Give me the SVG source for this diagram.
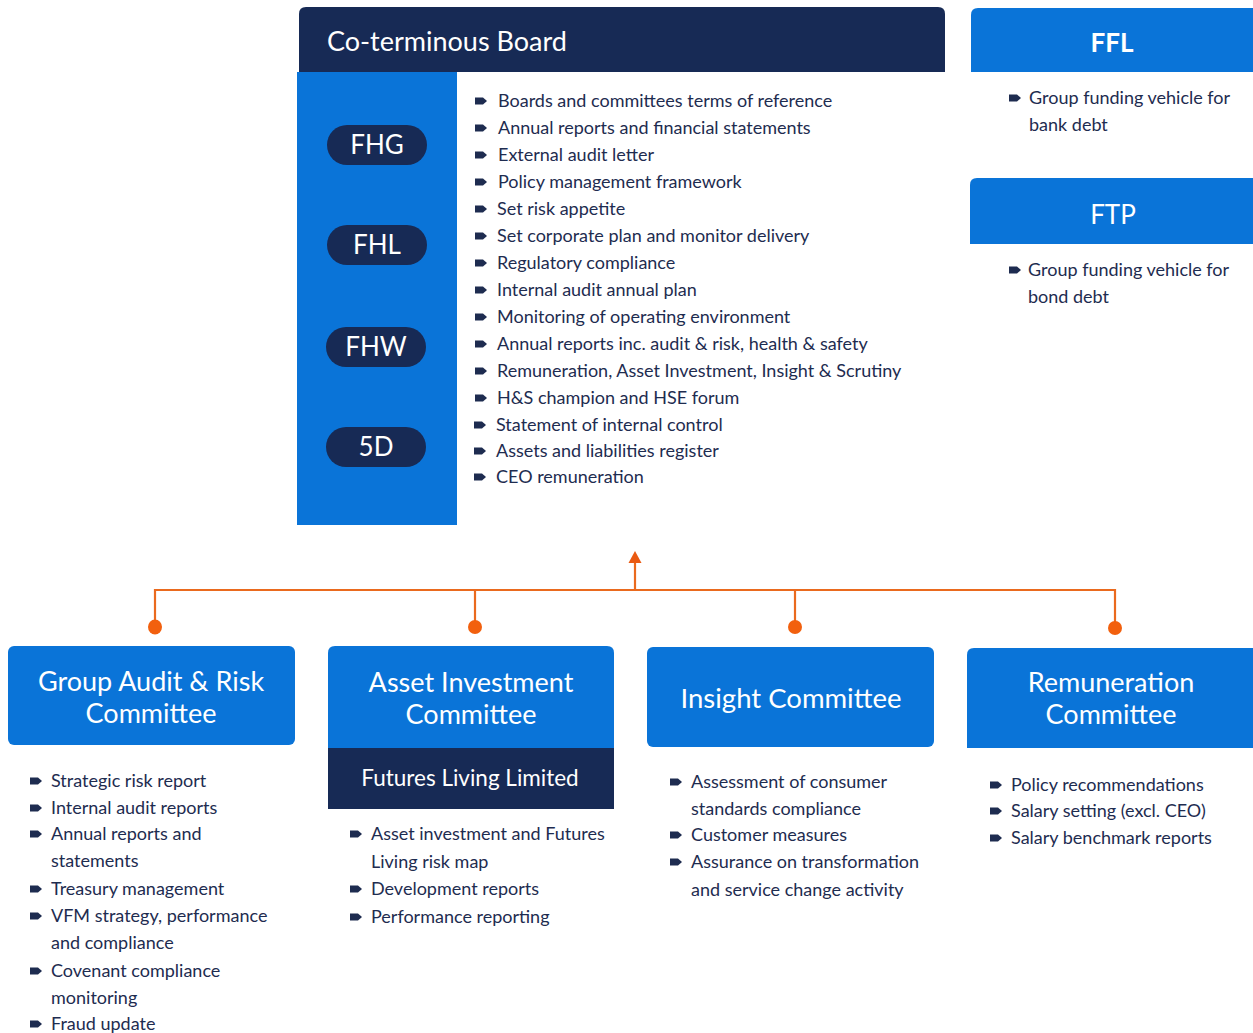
<svg xmlns="http://www.w3.org/2000/svg" width="1253" height="1033" viewBox="0 0 1253 1033">
<style>
.bg{fill:#ffffff}
.blue{fill:#0a74d8}
.navy{fill:#172a55}
.t{font-family:Lato,"Liberation Sans",sans-serif;font-size:18px;fill:#1e2c50}
.h{font-family:Lato,"Liberation Sans",sans-serif;fill:#ffffff}
.wire{stroke:#ea6a1e;stroke-width:2.2;fill:none}
.dot{fill:#f2600e}
</style>
<defs>
<path id="b" d="M-6,-3.5 H2 L6,0 L2,3.5 H-6 Z" fill="#1e2c50"/>
<marker id="arr" markerWidth="14" markerHeight="14" refX="2" refY="7" orient="auto" markerUnits="userSpaceOnUse">
<path d="M0,0.5 L12,7 L0,13.5 Z" fill="#ea5a12"/>
</marker>
</defs>
<rect class="bg" width="1253" height="1033"/>

<g id="board">
<rect class="blue" x="297" y="72" width="160" height="453"/>
<path class="navy" d="M299,72 V14 Q299,7 306,7 H938 Q945,7 945,14 V72 Z"/>
<text class="h" x="327" y="51" font-size="27">Co-terminous Board</text>
<g id="pill-fhg"><rect class="navy" x="327" y="125" width="100" height="40" rx="20"/><text class="h" x="377" y="154" font-size="26" text-anchor="middle">FHG</text></g>
<g id="pill-fhl"><rect class="navy" x="327" y="225" width="100" height="40" rx="20"/><text class="h" x="377" y="254" font-size="26" text-anchor="middle">FHL</text></g>
<g id="pill-fhw"><rect class="navy" x="326" y="327" width="100" height="40" rx="20"/><text class="h" x="376" y="356" font-size="26" text-anchor="middle">FHW</text></g>
<g id="pill-5d"><rect class="navy" x="326" y="427" width="100" height="40" rx="20"/><text class="h" x="376" y="456" font-size="26" text-anchor="middle">5D</text></g>
<use href="#b" x="481" y="101"/><text class="t" x="498" y="107">Boards and committees terms of reference</text>
<use href="#b" x="481" y="128"/><text class="t" x="498" y="134">Annual reports and financial statements</text>
<use href="#b" x="481" y="155"/><text class="t" x="498" y="161">External audit letter</text>
<use href="#b" x="481" y="182"/><text class="t" x="498" y="188">Policy management framework</text>
<use href="#b" x="481" y="209"/><text class="t" x="497" y="215">Set risk appetite</text>
<use href="#b" x="481" y="236"/><text class="t" x="497" y="242">Set corporate plan and monitor delivery</text>
<use href="#b" x="481" y="263"/><text class="t" x="497" y="269">Regulatory compliance</text>
<use href="#b" x="481" y="290"/><text class="t" x="497" y="296">Internal audit annual plan</text>
<use href="#b" x="481" y="317"/><text class="t" x="497" y="323">Monitoring of operating environment</text>
<use href="#b" x="481" y="344"/><text class="t" x="497" y="350">Annual reports inc. audit &amp; risk, health &amp; safety</text>
<use href="#b" x="481" y="371"/><text class="t" x="497" y="377">Remuneration, Asset Investment, Insight &amp; Scrutiny</text>
<use href="#b" x="481" y="398"/><text class="t" x="497" y="404">H&amp;S champion and HSE forum</text>
<use href="#b" x="480" y="425"/><text class="t" x="496" y="431">Statement of internal control</text>
<use href="#b" x="480" y="451"/><text class="t" x="496" y="457">Assets and liabilities register</text>
<use href="#b" x="480" y="477"/><text class="t" x="496" y="483">CEO remuneration</text>
</g>

<g id="ffl">
<path class="blue" d="M971,72 V15 Q971,8 978,8 H1253 V72 Z"/>
<text class="h" x="1112" y="52" font-size="26" font-weight="bold" text-anchor="middle">FFL</text>
<use href="#b" x="1015" y="98"/><text class="t" x="1029" y="104">Group funding vehicle for</text>
<text class="t" x="1029" y="131">bank debt</text>
</g>
<g id="ftp">
<path class="blue" d="M970,244 V185 Q970,178 977,178 H1253 V244 Z"/>
<text class="h" x="1113" y="224" font-size="26" text-anchor="middle">FTP</text>
<use href="#b" x="1015" y="270"/><text class="t" x="1028" y="276">Group funding vehicle for</text>
<text class="t" x="1028" y="303">bond debt</text>
</g>

<g id="connectors">
<path class="wire" d="M155,622 V590 H1115 V622"/>
<path class="wire" d="M475,590 V622"/>
<path class="wire" d="M795,590 V622"/>
<path class="wire" d="M635,590 V561" marker-end="url(#arr)"/>
<ellipse class="dot" cx="155" cy="627" rx="7" ry="7.5"/>
<circle class="dot" cx="475" cy="627" r="7"/>
<circle class="dot" cx="795" cy="627" r="7"/>
<circle class="dot" cx="1115" cy="628" r="7"/>
</g>

<g id="audit">
<rect class="blue" x="8" y="646" width="287" height="99" rx="6"/>
<text class="h" x="151" y="691" font-size="27" text-anchor="middle">Group Audit &amp; Risk</text>
<text class="h" x="151" y="723" font-size="27" text-anchor="middle">Committee</text>
<use href="#b" x="36" y="781"/><text class="t" x="51" y="787">Strategic risk report</text>
<use href="#b" x="36" y="808"/><text class="t" x="51" y="814">Internal audit reports</text>
<use href="#b" x="36" y="834"/><text class="t" x="51" y="840">Annual reports and</text>
<text class="t" x="51" y="867">statements</text>
<use href="#b" x="36" y="889"/><text class="t" x="51" y="895">Treasury management</text>
<use href="#b" x="36" y="916"/><text class="t" x="51" y="922">VFM strategy, performance</text>
<text class="t" x="51" y="949">and compliance</text>
<use href="#b" x="36" y="971"/><text class="t" x="51" y="977">Covenant compliance</text>
<text class="t" x="51" y="1004">monitoring</text>
<use href="#b" x="36" y="1024"/><text class="t" x="51" y="1030">Fraud update</text>
</g>

<g id="asset">
<path class="blue" d="M328,748 V653 Q328,646 335,646 H607 Q614,646 614,653 V748 Z"/>
<rect class="navy" x="328" y="748" width="286" height="61"/>
<text class="h" x="471" y="692" font-size="27" text-anchor="middle">Asset Investment</text>
<text class="h" x="471" y="724" font-size="27" text-anchor="middle">Committee</text>
<text class="h" x="470" y="786" font-size="22.5" text-anchor="middle">Futures Living Limited</text>
<use href="#b" x="356" y="834"/><text class="t" x="371" y="840">Asset investment and Futures</text>
<text class="t" x="371" y="868">Living risk map</text>
<use href="#b" x="356" y="889"/><text class="t" x="371" y="895">Development reports</text>
<use href="#b" x="356" y="917"/><text class="t" x="371" y="923">Performance reporting</text>
</g>

<g id="insight">
<rect class="blue" x="647" y="647" width="287" height="100" rx="6"/>
<text class="h" x="791" y="708" font-size="27.5" text-anchor="middle">Insight Committee</text>
<use href="#b" x="676" y="782"/><text class="t" x="691" y="788">Assessment of consumer</text>
<text class="t" x="691" y="815">standards compliance</text>
<use href="#b" x="676" y="835"/><text class="t" x="691" y="841">Customer measures</text>
<use href="#b" x="676" y="862"/><text class="t" x="691" y="868">Assurance on transformation</text>
<text class="t" x="691" y="896">and service change activity</text>
</g>

<g id="remuneration">
<path class="blue" d="M967,748 V655 Q967,648 974,648 H1253 V748 Z"/>
<text class="h" x="1111" y="692" font-size="27" text-anchor="middle">Remuneration</text>
<text class="h" x="1111" y="724" font-size="27" text-anchor="middle">Committee</text>
<use href="#b" x="996" y="785"/><text class="t" x="1011" y="791">Policy recommendations</text>
<use href="#b" x="996" y="811"/><text class="t" x="1011" y="817">Salary setting (excl. CEO)</text>
<use href="#b" x="996" y="838"/><text class="t" x="1011" y="844">Salary benchmark reports</text>
</g>
</svg>
